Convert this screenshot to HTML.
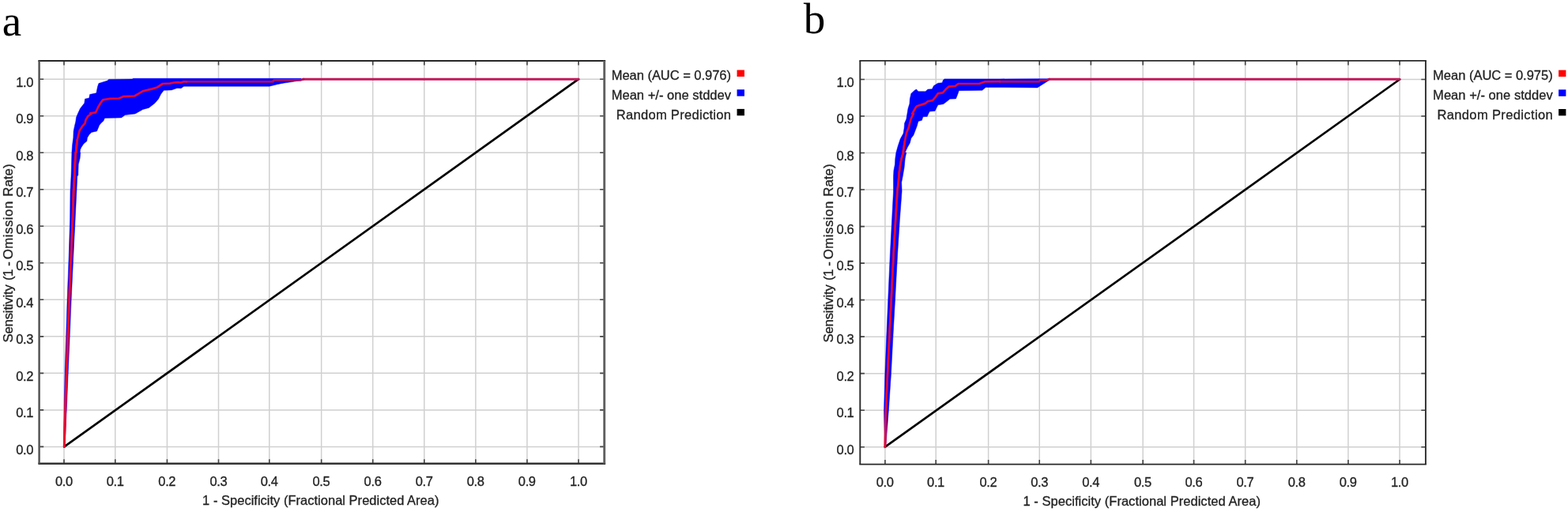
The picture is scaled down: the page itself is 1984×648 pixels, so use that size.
<!DOCTYPE html>
<html lang="en">
<head>
<meta charset="utf-8">
<title>ROC curves</title>
<style>
html,body{margin:0;padding:0;background:#fff;}
body{width:1984px;height:648px;overflow:hidden;}
svg{display:block;}
text{font-family:"Liberation Sans",sans-serif;font-size:16.5px;fill:#222;stroke:#222;stroke-width:0.3px;}
text.yl{font-size:16.8px;}
text.pl{font-family:"Liberation Serif",serif;font-size:55px;fill:#000;stroke:none;}
.grid{fill:none;stroke:#d0d0d0;stroke-width:1.5;}
.tick{fill:none;stroke:#444;stroke-width:1.6;}
.band{fill:#0000ff;stroke:#0000ff;stroke-width:0.5;stroke-linejoin:round;}
.diag{fill:none;stroke:#000;stroke-width:2.7;stroke-linecap:round;}
.flat{fill:none;stroke:#b20a5c;stroke-width:2.9;stroke-linejoin:round;stroke-linecap:round;}
.mean{fill:none;stroke:#e2083a;stroke-width:2.7;stroke-linejoin:round;stroke-linecap:round;}
.steep{fill:none;stroke:#e60a30;stroke-width:2.6;stroke-linejoin:round;stroke-linecap:round;}
.tail{fill:none;stroke:#c2185b;stroke-width:3;stroke-linecap:round;}
</style>
</head>
<body>
<svg width="1984" height="648" viewBox="0 0 1984 648">
<rect width="1984" height="648" fill="#ffffff"/>
<g id="panel-a">
<path class="grid" d="M81.00 76.90V586.80M49.60 565.40H764.70M145.77 76.90V586.80M49.60 518.88H764.70M211.44 76.90V586.80M49.60 472.36H764.70M276.51 76.90V586.80M49.60 425.84H764.70M340.78 76.90V586.80M49.60 379.32H764.70M406.65 76.90V586.80M49.60 332.80H764.70M471.72 76.90V586.80M49.60 286.28H764.70M536.79 76.90V586.80M49.60 239.76H764.70M601.86 76.90V586.80M49.60 193.24H764.70M666.93 76.90V586.80M49.60 146.72H764.70M732.00 76.90V586.80M49.60 100.20H764.70"/>
<path class="band" d="M80.9 565.4L81.0 520.0L82.1 470.0L83.7 424.0L85.1 380.0L87.2 324.0L88.6 278.0L89.0 242.0L90.0 223.2L90.5 208.1L90.9 193.0L90.9 193.0L91.6 183.3L92.8 174.2L93.1 165.9L94.3 159.9L95.8 153.8L96.5 148.5L98.4 144.0L101.5 137.3L106.8 130.5L107.5 125.2L112.8 124.1L113.6 119.6L121.9 117.7L123.4 110.1L124.9 105.6L135.5 102.2L137.8 100.4L167.2 100.1L168.7 99.3L225.0 99.3L232.0 99.3L347.0 99.3L381.0 99.3L381.0 101.6L369.7 103.6L359.7 105.0L350.7 106.8L340.7 109.2L232.7 109.2L229.0 111.8L225.0 111.6L223.2 111.8L217.1 113.9L207.3 114.3L203.5 119.2L200.5 125.2L196.0 130.5L188.4 136.4L180.8 138.5L171.0 144.0L171.0 144.0L158.2 145.5L153.6 148.9L132.5 149.4L130.9 153.1L127.9 155.7L125.7 158.4L122.6 165.9L115.8 167.4L112.8 170.5L110.5 174.2L109.8 178.8L106.0 181.8L103.0 186.3L101.5 189.4L101.1 193.0L101.8 193.0L101.1 200.6L99.2 208.1L98.8 221.7L97.7 223.2L96.9 242.0L95.1 278.0L92.8 324.0L90.1 380.0L88.3 424.0L86.3 470.0L84.2 520.0L81.7 565.4Z"/>
<path class="diag" d="M81.30 565.40L732.00 100.20"/>
<path class="tail" d="M384.0 100.2L732.0 100.2"/>
<path class="flat" d="M236.0 103.4L345.0 103.4L347.0 101.4L380.0 101.4L384.0 100.2"/>
<path class="mean" d="M81.3 565.4L82.6 520.0L84.2 470.0L86.0 424.0L87.6 380.0L90.0 324.0L91.9 278.0L93.1 242.0L94.3 223.2L94.8 208.1L95.8 193.0L96.2 193.0L96.9 184.8L97.7 177.3L99.2 171.2L100.7 165.2L104.1 159.9L107.5 156.1L108.6 151.6L111.3 147.0L115.8 144.0L114.3 143.4L121.1 142.3L124.1 135.8L127.2 130.5L130.2 126.4L139.3 124.9L150.6 124.5L155.9 122.2L170.3 121.5L175.6 118.4L180.8 115.4L192.9 112.4L199.0 110.5L205.8 106.0L214.9 105.6L220.2 104.5L225.0 104.2L229.0 104.6L232.0 103.4L236.0 103.4"/>
<path class="steep" style="stroke-width:3.0" d="M81.3 565.4L82.6 520.0L84.2 470.0L86.0 424.0L87.6 380.0L90.0 324.0L91.9 278.0L93.1 242.0L94.3 223.2L94.8 208.1L95.8 193.0L96.2 193.0L96.9 184.8L97.7 177.3"/>
<path class="tick" d="M81.00 76.90v5.6M81.00 586.80v-5.6M49.60 565.40h5.6M764.70 565.40h-5.6M145.77 76.90v5.6M145.77 586.80v-5.6M49.60 518.88h5.6M764.70 518.88h-5.6M211.44 76.90v5.6M211.44 586.80v-5.6M49.60 472.36h5.6M764.70 472.36h-5.6M276.51 76.90v5.6M276.51 586.80v-5.6M49.60 425.84h5.6M764.70 425.84h-5.6M340.78 76.90v5.6M340.78 586.80v-5.6M49.60 379.32h5.6M764.70 379.32h-5.6M406.65 76.90v5.6M406.65 586.80v-5.6M49.60 332.80h5.6M764.70 332.80h-5.6M471.72 76.90v5.6M471.72 586.80v-5.6M49.60 286.28h5.6M764.70 286.28h-5.6M536.79 76.90v5.6M536.79 586.80v-5.6M49.60 239.76h5.6M764.70 239.76h-5.6M601.86 76.90v5.6M601.86 586.80v-5.6M49.60 193.24h5.6M764.70 193.24h-5.6M666.93 76.90v5.6M666.93 586.80v-5.6M49.60 146.72h5.6M764.70 146.72h-5.6M732.00 76.90v5.6M732.00 586.80v-5.6M49.60 100.20h5.6M764.70 100.20h-5.6"/>
<path d="M48.35 76.90H766.15" stroke="#262626" stroke-width="2.0" fill="none"/>
<path d="M48.35 586.80H766.15" stroke="#333" stroke-width="2.5" fill="none"/>
<path d="M49.60 76.90V586.80" stroke="#555" stroke-width="2.5" fill="none"/>
<path d="M764.70 76.90V586.80" stroke="#606060" stroke-width="2.9" fill="none"/>
<text x="69.90" y="615.30" textLength="22.2">0.0</text>
<text x="134.67" y="615.30" textLength="22.2">0.1</text>
<text x="200.34" y="615.30" textLength="22.2">0.2</text>
<text x="265.41" y="615.30" textLength="22.2">0.3</text>
<text x="329.68" y="615.30" textLength="22.2">0.4</text>
<text x="395.55" y="615.30" textLength="22.2">0.5</text>
<text x="460.62" y="615.30" textLength="22.2">0.6</text>
<text x="525.69" y="615.30" textLength="22.2">0.7</text>
<text x="590.76" y="615.30" textLength="22.2">0.8</text>
<text x="655.83" y="615.30" textLength="22.2">0.9</text>
<text x="720.90" y="615.30" textLength="22.2">1.0</text>
<text x="20.20" y="574.70" textLength="22.2">0.0</text>
<text x="20.20" y="528.18" textLength="22.2">0.1</text>
<text x="20.20" y="481.66" textLength="22.2">0.2</text>
<text x="20.20" y="435.14" textLength="22.2">0.3</text>
<text x="20.20" y="388.62" textLength="22.2">0.4</text>
<text x="20.20" y="342.10" textLength="22.2">0.5</text>
<text x="20.20" y="295.58" textLength="22.2">0.6</text>
<text x="20.20" y="249.06" textLength="22.2">0.7</text>
<text x="20.20" y="202.54" textLength="22.2">0.8</text>
<text x="20.20" y="156.02" textLength="22.2">0.9</text>
<text x="20.20" y="109.50" textLength="22.2">1.0</text>
<text x="256.10" y="639.10" textLength="299.40">1 - Specificity (Fractional Predicted Area)</text>
<text class="yl" transform="translate(15.50 432.80) rotate(-90)"><tspan x="-0.8" style="letter-spacing:-0.2px">Sensitivity </tspan><tspan x="77.7" style="letter-spacing:-0.4px">(1 </tspan><tspan x="96.0">- </tspan><tspan x="104.6" style="letter-spacing:0.5px">Omission </tspan><tspan x="184.0" style="letter-spacing:0.1px">Rate)</tspan></text>
<text x="773.70" y="101.20" textLength="151.30">Mean (AUC = 0.976)</text>
<rect x="932.50" y="88.60" width="9.4" height="8.4" fill="#ff0000"/>
<text x="773.70" y="125.90" textLength="151.30">Mean +/- one stddev</text>
<rect x="932.50" y="113.30" width="9.4" height="8.4" fill="#0000ff"/>
<text x="779.70" y="150.50" textLength="145.30">Random Prediction</text>
<rect x="932.50" y="137.90" width="9.4" height="8.4" fill="#000000"/>
<text class="pl" x="2.80" y="45.40">a</text>
</g>
<g id="panel-b">
<path class="grid" d="M1119.90 76.90V587.70M1088.30 565.70H1803.90M1184.21 76.90V587.70M1088.30 519.18H1803.90M1250.62 76.90V587.70M1088.30 472.66H1803.90M1315.23 76.90V587.70M1088.30 426.14H1803.90M1380.34 76.90V587.70M1088.30 379.62H1803.90M1446.15 76.90V587.70M1088.30 333.10H1803.90M1510.56 76.90V587.70M1088.30 286.58H1803.90M1575.67 76.90V587.70M1088.30 240.06H1803.90M1640.78 76.90V587.70M1088.30 193.54H1803.90M1705.89 76.90V587.70M1088.30 147.02H1803.90M1771.00 76.90V587.70M1088.30 100.50H1803.90"/>
<path class="band" d="M1119.3 565.7L1118.5 520.0L1119.8 474.0L1121.8 424.0L1123.7 380.0L1126.2 324.0L1128.6 278.0L1130.5 242.0L1130.5 223.2L1130.9 215.7L1132.4 208.1L1132.8 200.6L1133.9 193.0L1133.9 193.0L1136.2 184.8L1139.2 175.8L1143.0 168.9L1144.1 162.1L1144.5 156.1L1146.8 150.8L1147.9 144.0L1149.0 137.3L1150.9 131.3L1151.3 125.2L1152.8 118.4L1157.3 114.3L1159.6 113.1L1161.9 115.8L1170.9 115.8L1174.0 113.1L1179.3 112.8L1181.5 108.6L1186.8 105.2L1192.1 104.8L1193.6 101.0L1195.1 99.9L1265.0 99.9L1313.0 99.7L1327.0 99.7L1327.1 101.8L1312.6 110.9L1265.0 110.5L1247.3 110.5L1242.8 114.3L1213.3 114.7L1211.8 119.2L1209.5 124.9L1201.9 125.2L1198.2 128.3L1193.6 131.7L1186.8 132.8L1183.0 140.4L1176.2 141.1L1174.7 144.0L1174.7 144.0L1173.2 147.4L1167.9 147.8L1166.4 152.3L1161.9 153.5L1160.4 159.1L1158.1 165.2L1155.8 171.2L1152.8 175.0L1151.3 181.0L1148.3 186.3L1145.2 193.0L1146.8 193.0L1145.2 200.6L1144.1 211.9L1142.2 223.2L1140.7 230.8L1141.1 242.0L1138.4 278.0L1135.5 324.0L1132.5 380.0L1130.0 424.0L1127.4 474.0L1124.3 520.0L1120.7 565.7Z"/>
<path class="diag" d="M1119.90 565.70L1771.00 100.50"/>
<path class="tail" d="M1327.5 100.2L1771.0 100.2"/>
<path class="flat" d="M1265.0 103.2L1314.5 103.4L1316.5 101.6L1325.0 101.6L1327.5 100.2"/>
<path class="mean" d="M1119.9 565.7L1120.9 520.0L1123.0 474.0L1125.4 424.0L1127.7 380.0L1130.5 324.0L1133.2 278.0L1135.4 242.0L1136.9 229.3L1137.7 218.7L1139.2 208.1L1140.7 200.6L1143.0 193.0L1142.6 193.0L1143.7 186.3L1144.9 178.8L1146.0 172.7L1147.5 166.7L1149.8 161.4L1151.3 155.3L1152.8 150.0L1155.8 144.0L1154.3 144.0L1158.8 135.8L1160.4 134.3L1166.4 132.4L1170.9 130.9L1174.0 128.3L1180.0 127.1L1183.0 123.7L1186.8 118.4L1192.9 117.3L1196.7 113.1L1200.4 109.7L1208.7 109.0L1212.5 106.0L1239.0 106.0L1246.5 103.3L1265.0 103.2"/>
<path class="steep" style="stroke-width:2.5" d="M1119.9 565.7L1120.9 520.0L1123.0 474.0L1125.4 424.0L1127.7 380.0L1130.5 324.0L1133.2 278.0L1135.4 242.0L1136.9 229.3L1137.7 218.7L1139.2 208.1L1140.7 200.6L1143.0 193.0L1142.6 193.0L1143.7 186.3L1144.9 178.8"/>
<path class="tick" d="M1119.90 76.90v5.6M1119.90 587.70v-5.6M1088.30 565.70h5.6M1803.90 565.70h-5.6M1184.21 76.90v5.6M1184.21 587.70v-5.6M1088.30 519.18h5.6M1803.90 519.18h-5.6M1250.62 76.90v5.6M1250.62 587.70v-5.6M1088.30 472.66h5.6M1803.90 472.66h-5.6M1315.23 76.90v5.6M1315.23 587.70v-5.6M1088.30 426.14h5.6M1803.90 426.14h-5.6M1380.34 76.90v5.6M1380.34 587.70v-5.6M1088.30 379.62h5.6M1803.90 379.62h-5.6M1446.15 76.90v5.6M1446.15 587.70v-5.6M1088.30 333.10h5.6M1803.90 333.10h-5.6M1510.56 76.90v5.6M1510.56 587.70v-5.6M1088.30 286.58h5.6M1803.90 286.58h-5.6M1575.67 76.90v5.6M1575.67 587.70v-5.6M1088.30 240.06h5.6M1803.90 240.06h-5.6M1640.78 76.90v5.6M1640.78 587.70v-5.6M1088.30 193.54h5.6M1803.90 193.54h-5.6M1705.89 76.90v5.6M1705.89 587.70v-5.6M1088.30 147.02h5.6M1803.90 147.02h-5.6M1771.00 76.90v5.6M1771.00 587.70v-5.6M1088.30 100.50h5.6M1803.90 100.50h-5.6"/>
<path d="M1087.35 76.90H1804.85" stroke="#2a2a2a" stroke-width="1.8" fill="none"/>
<path d="M1087.35 587.70H1804.85" stroke="#2a2a2a" stroke-width="1.8" fill="none"/>
<path d="M1088.30 76.90V587.70" stroke="#2a2a2a" stroke-width="1.9" fill="none"/>
<path d="M1803.90 76.90V587.70" stroke="#2a2a2a" stroke-width="1.9" fill="none"/>
<text x="1108.80" y="616.20" textLength="22.2">0.0</text>
<text x="1173.11" y="616.20" textLength="22.2">0.1</text>
<text x="1239.52" y="616.20" textLength="22.2">0.2</text>
<text x="1304.13" y="616.20" textLength="22.2">0.3</text>
<text x="1369.24" y="616.20" textLength="22.2">0.4</text>
<text x="1435.05" y="616.20" textLength="22.2">0.5</text>
<text x="1499.46" y="616.20" textLength="22.2">0.6</text>
<text x="1564.57" y="616.20" textLength="22.2">0.7</text>
<text x="1629.68" y="616.20" textLength="22.2">0.8</text>
<text x="1694.79" y="616.20" textLength="22.2">0.9</text>
<text x="1759.90" y="616.20" textLength="22.2">1.0</text>
<text x="1058.60" y="575.00" textLength="22.2">0.0</text>
<text x="1058.60" y="528.48" textLength="22.2">0.1</text>
<text x="1058.60" y="481.96" textLength="22.2">0.2</text>
<text x="1058.60" y="435.44" textLength="22.2">0.3</text>
<text x="1058.60" y="388.92" textLength="22.2">0.4</text>
<text x="1058.60" y="342.40" textLength="22.2">0.5</text>
<text x="1058.60" y="295.88" textLength="22.2">0.6</text>
<text x="1058.60" y="249.36" textLength="22.2">0.7</text>
<text x="1058.60" y="202.84" textLength="22.2">0.8</text>
<text x="1058.60" y="156.32" textLength="22.2">0.9</text>
<text x="1058.60" y="109.80" textLength="22.2">1.0</text>
<text x="1294.50" y="640.20" textLength="300.40">1 - Specificity (Fractional Predicted Area)</text>
<text class="yl" transform="translate(1053.60 432.80) rotate(-90)"><tspan x="-0.8" style="letter-spacing:-0.2px">Sensitivity </tspan><tspan x="77.7" style="letter-spacing:-0.4px">(1 </tspan><tspan x="96.0">- </tspan><tspan x="104.6" style="letter-spacing:0.5px">Omission </tspan><tspan x="184.0" style="letter-spacing:0.1px">Rate)</tspan></text>
<text x="1813.10" y="101.30" textLength="151.60">Mean (AUC = 0.975)</text>
<rect x="1972.10" y="88.70" width="9.3" height="8.4" fill="#ff0000"/>
<text x="1813.10" y="126.00" textLength="151.60">Mean +/- one stddev</text>
<rect x="1972.10" y="113.40" width="9.3" height="8.4" fill="#0000ff"/>
<text x="1818.40" y="150.60" textLength="146.30">Random Prediction</text>
<rect x="1972.10" y="138.00" width="9.3" height="8.4" fill="#000000"/>
<text class="pl" x="1016.80" y="41.80">b</text>
</g>
</svg>
</body>
</html>
